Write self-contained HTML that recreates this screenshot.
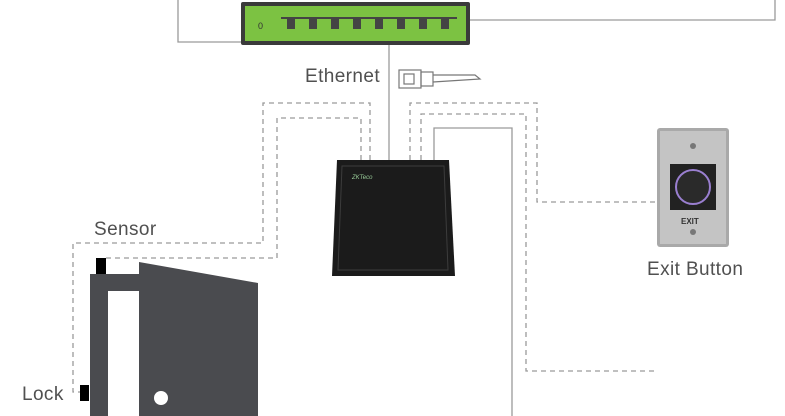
<!DOCTYPE html>
<html><head><style>
html,body{margin:0;padding:0;background:#fff;}
body{width:785px;height:416px;overflow:hidden;position:relative;font-family:"Liberation Sans",sans-serif;}
.t{position:absolute;color:#505050;font-size:19px;letter-spacing:0.4px;}
</style></head><body>
<svg width="785" height="416" style="position:absolute;left:0;top:0">
<g fill="none" stroke="#9a9a9a" stroke-width="1.3">
<polyline points="178,0 178,42 241,42"/>
<polyline points="470,20 775,20 775,0"/>
<line x1="389" y1="45" x2="389" y2="160"/>
<polyline points="434,160 434,128 512,128 512,416"/>
</g>
<g fill="none" stroke="#9a9a9a" stroke-width="1.3" stroke-dasharray="5,4">
<polyline points="370,160 370,103 263,103 263,243 73,243 73,392 80,392"/>
<polyline points="361,160 361,118 277,118 277,258 106,258"/>
<polyline points="410,160 410,103 537,103 537,202 655,202"/>
<polyline points="421,160 421,114 526,114 526,371 655,371"/>
</g>
<rect x="241" y="2" width="229" height="43" rx="2" fill="#3a3a3a"/>
<rect x="245" y="6" width="221" height="35" fill="#7cc242"/>
<text x="258" y="29" font-size="9" fill="#333" font-family="Liberation Sans">0</text>
<g fill="#444">
<rect x="281" y="17" width="176" height="2"/>
<rect x="287" y="19" width="8" height="10"/><rect x="309" y="19" width="8" height="10"/><rect x="331" y="19" width="8" height="10"/><rect x="353" y="19" width="8" height="10"/><rect x="375" y="19" width="8" height="10"/><rect x="397" y="19" width="8" height="10"/><rect x="419" y="19" width="8" height="10"/><rect x="441" y="19" width="8" height="10"/>
</g>
<g fill="none" stroke="#777" stroke-width="1.2">
<rect x="399" y="70" width="22" height="18"/>
<rect x="404" y="74" width="10" height="10"/>
<rect x="421" y="72" width="12" height="14"/>
<polyline points="433,75 475,75 480,79 433,82"/>
</g>
<g fill="#4a4b4f">
<rect x="90" y="274" width="50" height="142"/>
<polygon points="139,262 258,283 258,416 139,416"/>
<rect x="96" y="258" width="10" height="16" fill="#000"/>
<rect x="80" y="385" width="9" height="16" fill="#000"/>
</g>
<rect x="108" y="291" width="31" height="125" fill="#fff"/>
<circle cx="161" cy="398" r="7" fill="#fff"/>
<polygon points="337,160 449,160 455,276 332,276" fill="#1b1b1b"/>
<polygon points="342,166 444,166 448,270 338,270" fill="none" stroke="#3c3c3c" stroke-width="1"/>
<text x="352" y="179" font-size="6" fill="#9c9" font-family="Liberation Sans" font-style="italic">ZKTeco</text>
<rect x="657" y="128" width="72" height="119" rx="3" fill="#a9a9a9"/>
<rect x="660" y="131" width="66" height="113" fill="#c4c4c4"/>
<circle cx="693" cy="146" r="3" fill="#777"/>
<circle cx="693" cy="232" r="3" fill="#777"/>
<rect x="670" y="164" width="46" height="46" fill="#222"/>
<circle cx="693" cy="187" r="17" fill="#2a2a2a" stroke="#9a7fd0" stroke-width="2"/>
<text x="681" y="224" font-size="8" font-weight="bold" fill="#333" font-family="Liberation Sans">EXIT</text>
</svg>
<div class="t" style="left:305px;top:66px;">Ethernet</div>
<div class="t" style="left:94px;top:219px;">Sensor</div>
<div class="t" style="left:22px;top:384px;">Lock</div>
<div class="t" style="left:647px;top:259px;">Exit Button</div>
</body></html>
